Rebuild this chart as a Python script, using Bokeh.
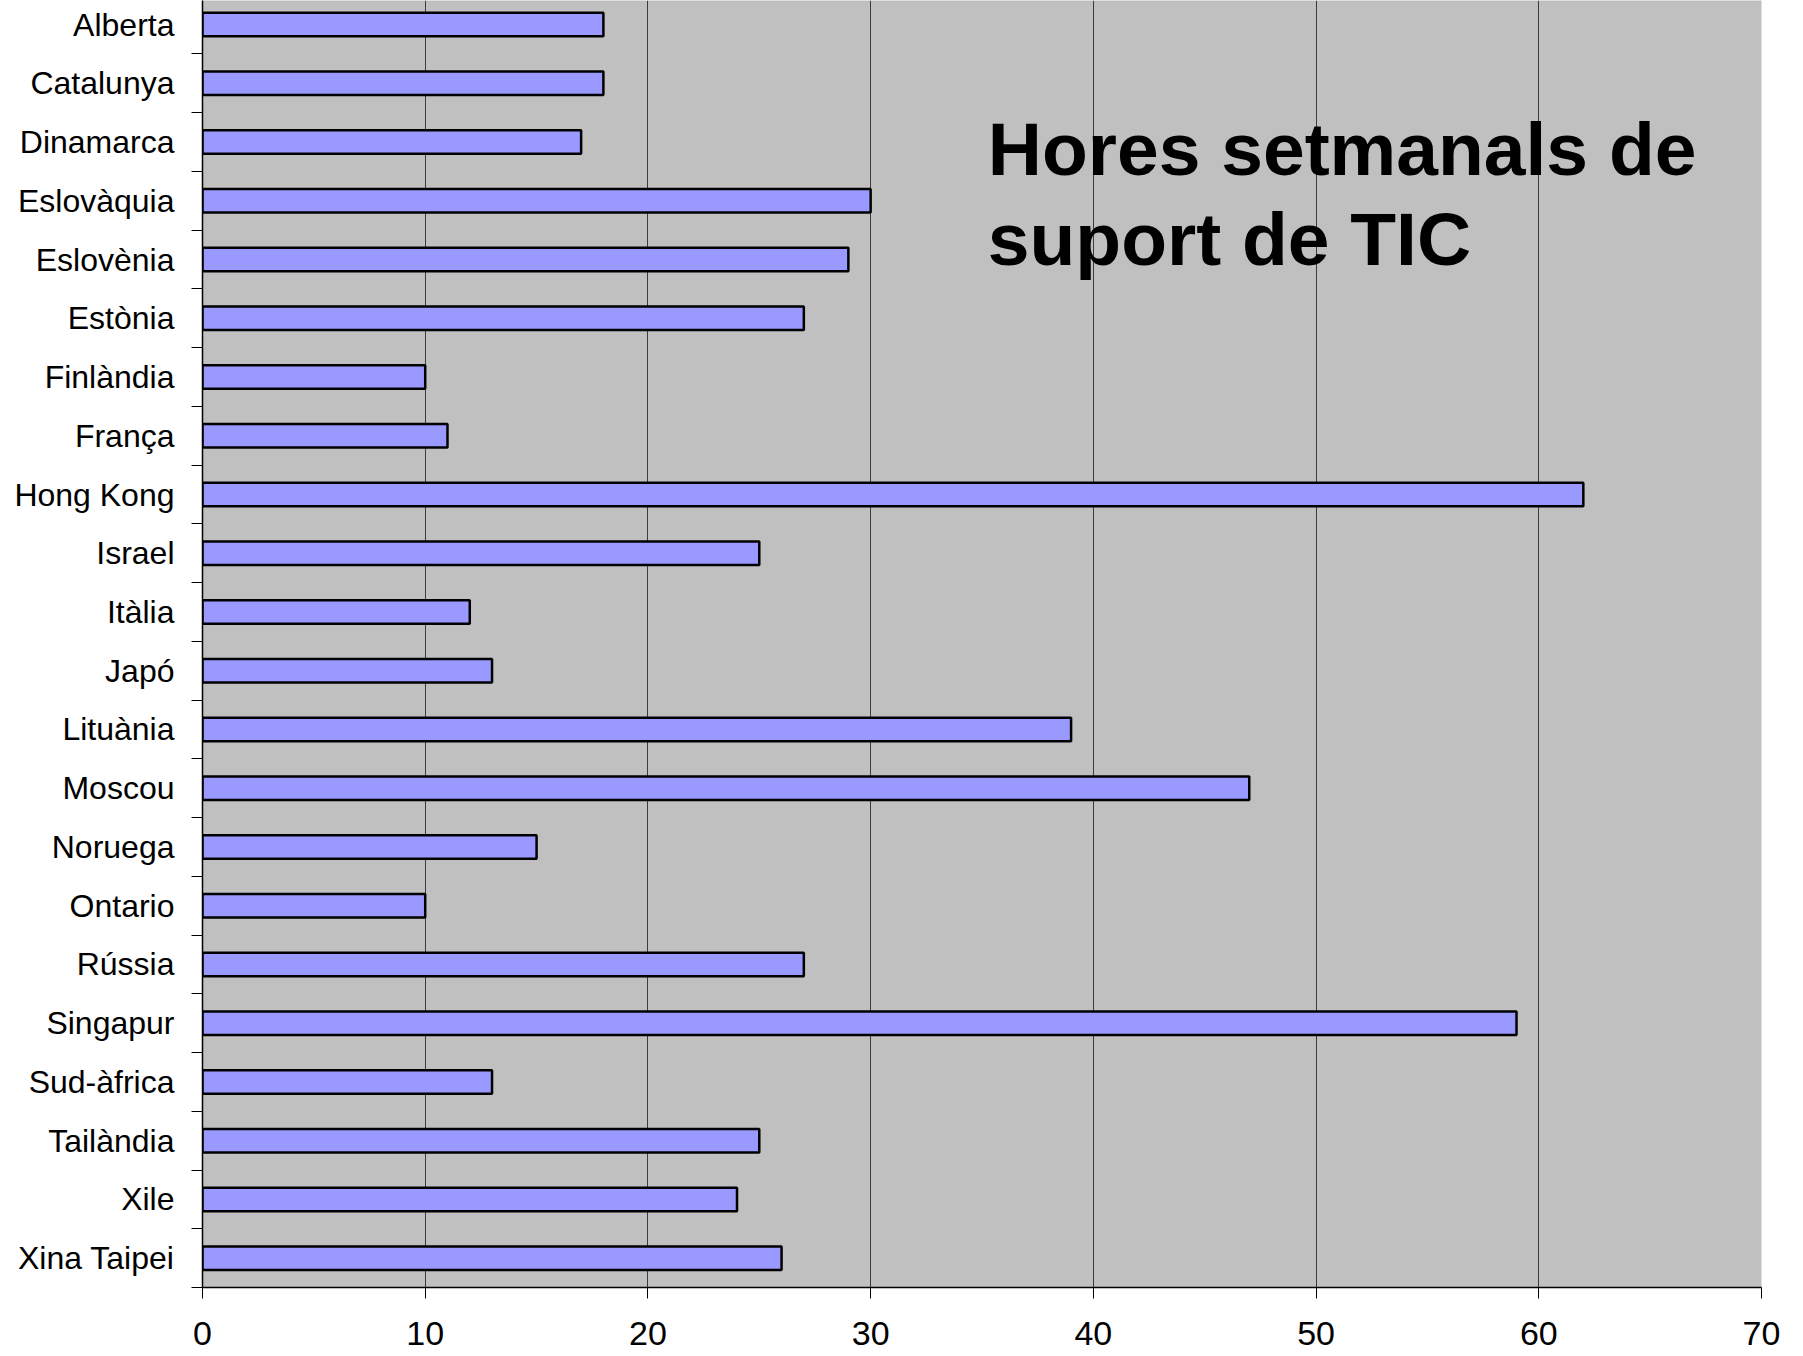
from bokeh.plotting import figure
from bokeh.models import Range1d, FixedTicker, Label, ColumnDataSource
from bokeh.embed import file_html
from bokeh.resources import INLINE

categories = ["Alberta", "Catalunya", "Dinamarca", "Eslovàquia", "Eslovènia", "Estònia",
              "Finlàndia", "França", "Hong Kong", "Israel", "Itàlia", "Japó", "Lituània",
              "Moscou", "Noruega", "Ontario", "Rússia", "Singapur", "Sud-àfrica",
              "Tailàndia", "Xile", "Xina Taipei"]
hours = [18, 18, 17, 30, 29, 27, 10, 11, 62, 25, 12, 13, 39, 47, 15, 10, 27, 59, 13, 25, 24, 26]
x_ticks = [0, 10, 20, 30, 40, 50, 60, 70]
title_lines = ["Hores setmanals de", "suport de TIC"]

FONT = "Liberation Sans"
idx = list(range(len(categories)))
src = ColumnDataSource(dict(y=idx, right=hours, cat=categories))

p = figure(width=1795, height=1356, output_backend="svg", toolbar_location=None,
           x_range=Range1d(0, 70), y_range=Range1d(len(categories) - 0.5, -0.41),
           min_border_left=202, min_border_right=34, min_border_top=0, min_border_bottom=69)

p.background_fill_color = "#C0C0C0"
p.border_fill_color = "white"
p.outline_line_color = None

p.hbar(y="y", left=0, right="right", height=0.4, source=src,
       fill_color="#9999FF", line_color="black", line_width=2.5)

# x axis
p.xaxis.ticker = FixedTicker(ticks=x_ticks)
p.xaxis.axis_line_color = "black"
p.xaxis.axis_line_width = 1.5
p.xaxis.major_tick_out = 11
p.xaxis.major_tick_in = 0
p.xaxis.major_tick_line_color = "black"
p.xaxis.minor_tick_line_color = None
p.xaxis.major_label_text_font = FONT
p.xaxis.major_label_text_font_size = "34px"
p.xaxis.major_label_text_color = "black"
p.xaxis.major_label_standoff = 23

# y axis
p.yaxis.ticker = FixedTicker(ticks=idx, minor_ticks=[i + 0.5 for i in range(-1, len(categories))])
p.yaxis.major_label_overrides = {i: c for i, c in zip(idx, categories)}
p.yaxis.axis_line_color = "black"
p.yaxis.axis_line_width = 1.5
p.yaxis.major_tick_out = 0
p.yaxis.major_tick_in = 0
p.yaxis.minor_tick_out = 11
p.yaxis.minor_tick_in = 0
p.yaxis.minor_tick_line_color = "black"
p.yaxis.major_label_text_font = FONT
p.yaxis.major_label_text_font_size = "32px"
p.yaxis.major_label_text_color = "black"
p.yaxis.major_label_standoff = 17

# grids
p.xgrid.grid_line_color = "#3c3c3c"
p.xgrid.grid_line_width = 1
p.ygrid.grid_line_color = None

# title inside the plot
for line, yv in zip(title_lines, [2.12, 3.65]):
    p.add_layout(Label(x=35.26, y=yv, text=line, text_font=FONT, text_font_style="bold",
                       text_font_size="75px", text_color="black",
                       text_baseline="alphabetic", text_align="left"))

open("out.html", "w").write(file_html(p, INLINE))
